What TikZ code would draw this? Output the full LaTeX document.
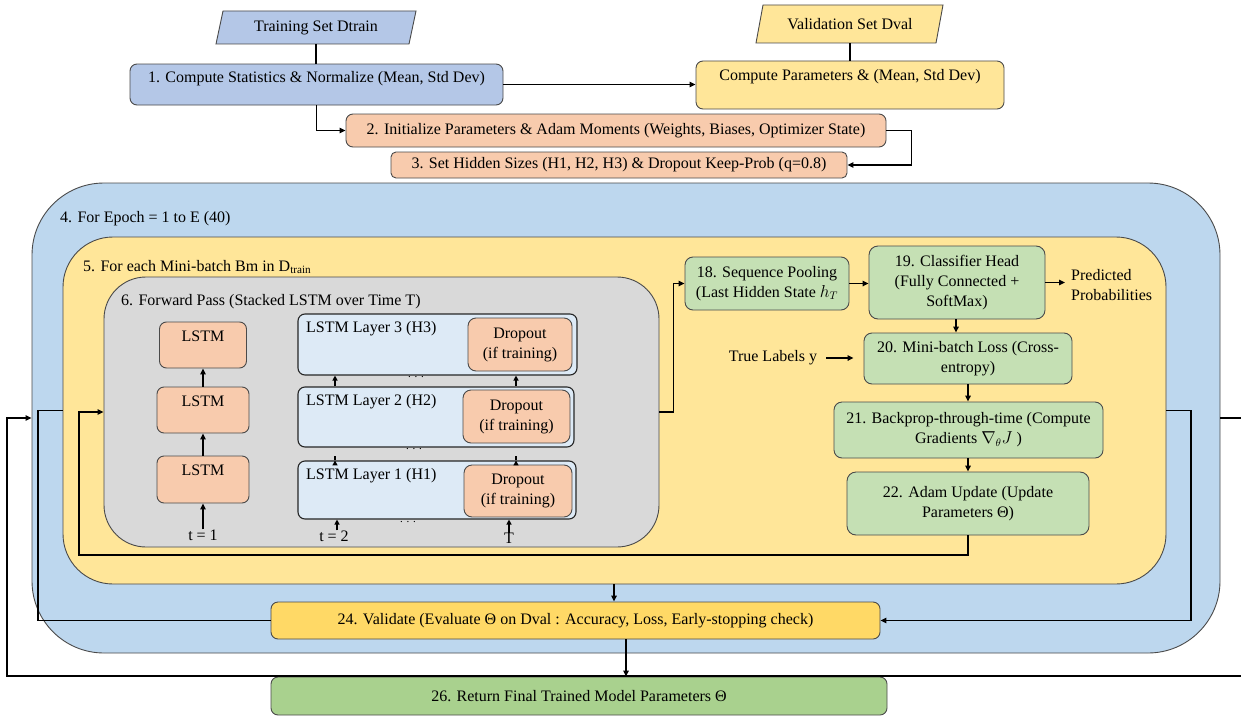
\documentclass[tikz,border=0pt]{standalone}
\usepackage{fontspec}
\setmainfont{Liberation Serif}
\usetikzlibrary{arrows.meta,calc}
\definecolor{cBlueA}{HTML}{B4C7E7}
\definecolor{cBlueBig}{HTML}{BDD7EE}
\definecolor{cYel}{HTML}{FFE699}
\definecolor{cGold}{HTML}{FFD966}
\definecolor{cSal}{HTML}{F8CBAD}
\definecolor{cGray}{HTML}{D9D9D9}
\definecolor{cGreen}{HTML}{C5E0B4}
\definecolor{cGreenD}{HTML}{A9D18E}
\definecolor{cLayer}{HTML}{DDEAF6}
\definecolor{cEdge}{HTML}{4A4A4A}
\newcommand\fsz{\fontsize{16}{20}\selectfont}
\begin{document}
\begin{tikzpicture}[x=1pt,y=-1pt,font=\fsz,
  box/.style={rectangle,draw=cEdge,line width=0.9pt,rounded corners=7pt,inner sep=2pt,align=center},
  cont/.style={rectangle,draw=cEdge,line width=0.9pt,inner sep=0pt},
  txt/.style={inner sep=0pt,align=center},
  ln/.style={line width=1.4pt},
  arr/.style={line width=1.4pt,-{Triangle[length=6pt,width=5.5pt]}},
  sarr/.style={line width=1.2pt,-{Triangle[length=5pt,width=5pt]}},
  dotsty/.style={inner sep=0pt,font=\fontsize{11}{11}\selectfont}
]
\fill[white] (0,0) rectangle (1241,717);
\useasboundingbox (0,0) rectangle (1241,717);

% ---------- top section ----------
\filldraw[fill=cBlueA,draw=cEdge,line width=0.9pt] (216,44) -- (409,44) -- (416,11) -- (223,11) -- cycle;
\node[txt,minimum width=190pt,minimum height=33pt] (train) at (316,27.5) {Training Set Dtrain};
\filldraw[fill=cYel,draw=cEdge,line width=0.9pt] (756,43) -- (936,43) -- (943,5) -- (763,5) -- cycle;
\node[txt,minimum width=175pt,minimum height=38pt] (val) at (850,24) {Validation Set Dval};

\node[box,fill=cBlueA,minimum width=373pt,minimum height=41pt] (b1) at (316.5,84.5) {};
\node[txt] (b1t) at (316.5,79) {1. Compute Statistics \& Normalize (Mean, Std Dev)};
\node[box,fill=cYel,minimum width=308pt,minimum height=48pt] (cp) at (850,85) {};
\node[txt] (cpt) at (850,77) {Compute Parameters \& (Mean, Std Dev)};
\node[box,fill=cSal,minimum width=540pt,minimum height=33pt] (b2) at (616,130.5) {2. Initialize Parameters \& Adam Moments (Weights, Biases, Optimizer State)};
\node[box,fill=cSal,minimum width=456pt,minimum height=26pt,rounded corners=5pt] (b3) at (619,165) {3. Set Hidden Sizes (H1, H2, H3) \& Dropout Keep-Prob (q=0.8)};

% ---------- containers ----------
\node[cont,fill=cBlueBig,rounded corners=72pt,minimum width=1188pt,minimum height=470pt] (blue) at (626,418) {};
\node[txt,anchor=west] (lab4) at (60,219) {4. For Epoch = 1 to E (40)};
\node[cont,fill=cYel,rounded corners=50pt,minimum width=1103pt,minimum height=347pt] (yel) at (614.5,410.5) {};
\node[txt,anchor=west] (lab5) at (83,267) {5. For each Mini-batch Bm in D\textsubscript{train}};
\node[cont,fill=cGray,rounded corners=42pt,minimum width=555pt,minimum height=270pt] (gray) at (381.5,412) {};
\node[txt,anchor=west] (lab6) at (121,302) {6. Forward Pass (Stacked LSTM over Time T)};

% ---------- LSTM column ----------
\node[box,fill=cSal,minimum width=87pt,minimum height=46pt] (la) at (203,345) {};
\node[txt] (lat) at (203,336) {LSTM};
\node[box,fill=cSal,minimum width=92pt,minimum height=46pt] (lb) at (203,410) {};
\node[txt] (lbt) at (203,401) {LSTM};
\node[box,fill=cSal,minimum width=92pt,minimum height=47pt] (lc) at (203,479.5) {};
\node[txt] (lct) at (203,470) {LSTM};
\node[txt] (t1) at (203,535) {t = 1};
\draw[arr] (lc.north) -- (lb.south);
\draw[arr] (lb.north) -- (la.south);
\draw[arr] (t1.north) -- (lc.south);

% ---------- stacked layers ----------
\node[box,fill=cLayer,draw=black!85,line width=1.1pt,minimum width=279pt,minimum height=61pt] (L3) at (437.5,344.5) {};
\node[txt,anchor=west] (L3t) at (306,329) {LSTM Layer 3 (H3)};
\node[box,fill=cSal,minimum width=104pt,minimum height=53pt,rounded corners=8pt] (D3) at (520,344.5) {Dropout\\(if training)};
\node[box,fill=cLayer,draw=black!85,line width=1.1pt,minimum width=276pt,minimum height=60pt] (L2) at (436,417) {};
\node[txt,anchor=west] (L2t) at (306,402) {LSTM Layer 2 (H2)};
\node[box,fill=cSal,minimum width=107pt,minimum height=53pt,rounded corners=8pt] (D2) at (516.5,416.5) {Dropout\\(if training)};
\node[box,fill=cLayer,draw=black!85,line width=1.1pt,minimum width=278pt,minimum height=58pt] (L1) at (437,490) {};
\node[txt,anchor=west] (L1t) at (306,476) {LSTM Layer 1 (H1)};
\node[box,fill=cSal,minimum width=108pt,minimum height=52pt,rounded corners=8pt] (D1) at (518,491) {Dropout\\(if training)};

\coordinate (cA) at (335,0);
\coordinate (cB) at (516,0);
\draw[sarr] (L2.north -| cA) -- (L3.south -| cA);
\draw[sarr] (L2.north -| cB) -- (L3.south -| cB);
\draw[sarr] (L1.north -| cA) -- (L1.north -| cA |- L2.south);
\draw[sarr] (L1.north -| cB) -- (L1.north -| cB |- L2.south);
\node[dotsty] (dt3) at (416,377) {. . .};
\node[dotsty] (dt2) at (414,449) {. . .};
\node[dotsty] (dt1) at (408,522) {. . .};
\node[txt] (t2) at (334,536) {t = 2};
\node[txt] (tT) at (509,538) {T};
\draw[sarr] (t2.north -| 337,0) -- (L1.south -| 337,0);
\draw[sarr] (tT.north) -- (L1.south -| tT);

% ---------- right side ----------
\node[box,fill=cGreen,minimum width=164pt,minimum height=53pt,rounded corners=8pt] (n18) at (767,283.5) {18. Sequence Pooling\\(Last Hidden State $h_T$};
\node[box,fill=cGreen,minimum width=176pt,minimum height=73pt,rounded corners=9pt] (n19) at (957,282.5) {19. Classifier Head\\(Fully Connected +\\SoftMax)};
\node[txt,anchor=west,align=left] (pred) at (1071,285) {Predicted\\Probabilities};
\node[box,fill=cGreen,minimum width=208pt,minimum height=51pt,rounded corners=8pt] (n20) at (968,358.5) {20. Mini-batch Loss (Cross-\\entropy)};
\node[txt] (truey) at (773,358) {True Labels y};
\node[box,fill=cGreen,minimum width=269pt,minimum height=56pt,rounded corners=8pt] (n21) at (968.5,430) {21. Backprop-through-time (Compute\\Gradients $\nabla_{\theta}J$ )};
\node[box,fill=cGreen,minimum width=242pt,minimum height=63pt,rounded corners=9pt] (n22) at (968,503.5) {22. Adam Update (Update\\Parameters Θ)};

\draw[arr] (gray.east) -- ++(14,0) |- (n18.west);
\draw[arr] (n18.east) -- (n18.east -| n19.west);
\draw[arr,shorten >=6pt] (n19.east) -- (n19.east -| pred.west);
\draw[arr] (n19.south -| 956,0) -- (n20.north -| 956,0);
\draw[arr,shorten <=9pt,shorten >=10pt] (truey.east) -- (truey.east -| n20.west);
\draw[arr] (n20.south -| 968,0) -- (n21.north -| 968,0);
\draw[arr] (n21.south -| 968,0) -- (n22.north -| 968,0);
\coordinate (lp1) at (79,555);
\draw[arr] (n22.south) |- (lp1) |- (gray.west);

% ---------- bottom ----------
\node[box,fill=cGold,minimum width=609pt,minimum height=37pt] (n24) at (575.5,620.5) {24. Validate (Evaluate Θ on Dval : Accuracy, Loss, Early-stopping check)};
\node[box,fill=cGreenD,minimum width=616pt,minimum height=38pt] (n26) at (579,696) {26. Return Final Trained Model Parameters Θ};

\draw[arr] (yel.south -| 614,0) -- (n24.north -| 614,0);
\coordinate (lc1) at (38,500);
\draw[ln] (n24.west) -| (lc1) |- (yel.west);
\coordinate (rc1) at (1191,500);
\draw[arr] (yel.east) -| (rc1) |- (n24.east);
\draw[arr] (n24.south -| 626,0) -- (n26.north -| 626,0);

% outer loop
\coordinate (o1) at (1252,418);
\coordinate (o2) at (1252,676);
\coordinate (o3) at (7,676);
\draw[arr] (blue.east) -- (o1) -- (o2) -- (o3) |- (blue.west);

% edges into top boxes
\draw[ln] (train.south) -- (b1.north -| train.south);
\draw[ln] (val.south) -- (cp.north);
\draw[arr] (b1.east) -- (b1.east -| cp.west);
\draw[arr] (b1.south) |- (b2.west);
\draw[arr] (b2.east) -- ++(25,0) |- (b3.east);
\end{tikzpicture}
\end{document}
